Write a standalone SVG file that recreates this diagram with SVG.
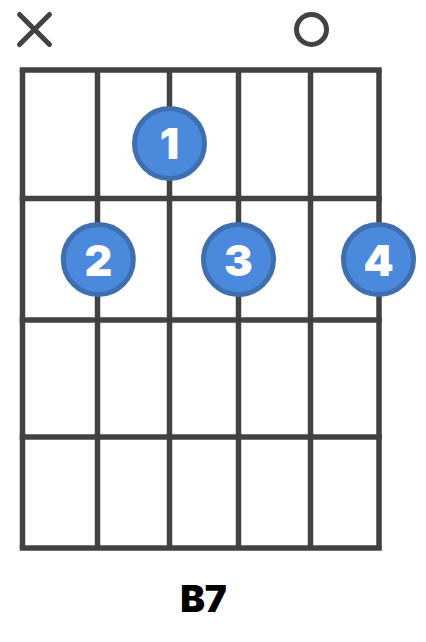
<svg xmlns="http://www.w3.org/2000/svg" width="426" height="642" viewBox="0 0 426 642">
<style>
.g{stroke:#424242;stroke-width:5.5;fill:none}
.mk{stroke:#424242;stroke-width:5;fill:none;stroke-linecap:round}
.dot circle{fill:#4a89dc;stroke:#3f6fae;stroke-width:5}
.dot text{fill:#fff;font-family:Inter,Roboto,"Liberation Sans",sans-serif;font-weight:900;font-size:43px;text-anchor:middle}
.lbl{fill:#000;font-family:Inter,Roboto,"Liberation Sans",sans-serif;font-weight:900;font-size:37px;text-anchor:middle}
</style>
<rect width="426" height="642" fill="#fff"/>
<g id="grid" class="g">
<line x1="22.5" y1="70" x2="22.5" y2="548"/>
<line x1="97.5" y1="70" x2="97.5" y2="548"/>
<line x1="169.5" y1="70" x2="169.5" y2="548"/>
<line x1="238.5" y1="70" x2="238.5" y2="548"/>
<line x1="310.5" y1="70" x2="310.5" y2="548"/>
<line x1="379" y1="70" x2="379" y2="548"/>
<line x1="19.75" y1="70" x2="381.75" y2="70"/>
<line x1="19.75" y1="198.5" x2="381.75" y2="198.5"/>
<line x1="19.75" y1="320" x2="381.75" y2="320"/>
<line x1="19.75" y1="437" x2="381.75" y2="437"/>
<line x1="19.75" y1="548" x2="381.75" y2="548"/>
</g>
<g id="mute" class="mk">
<line x1="19.5" y1="14.5" x2="49.5" y2="44.5"/>
<line x1="49.5" y1="14.5" x2="19.5" y2="44.5"/>
</g>
<g id="open" class="mk">
<circle cx="311.5" cy="29.5" r="15"/>
</g>
<g id="f1" class="dot"><circle cx="169.5" cy="143.5" r="35"/><text x="169.5" y="159">1</text></g>
<g id="f2" class="dot"><circle cx="98.3" cy="259.5" r="35"/><text x="98.3" y="276">2</text></g>
<g id="f3" class="dot"><circle cx="238.5" cy="259.5" r="35"/><text x="238.5" y="276">3</text></g>
<g id="f4" class="dot"><circle cx="378.5" cy="259.5" r="35"/><text x="378.5" y="276">4</text></g>
<text id="name" class="lbl" x="203.5" y="612">B7</text>
</svg>
